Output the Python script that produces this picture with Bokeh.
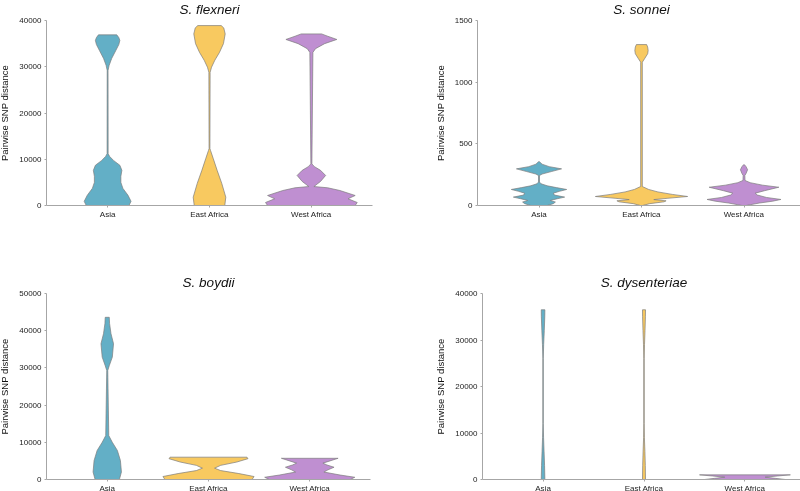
from bokeh.plotting import figure
from bokeh.layouts import column, row
from bokeh.models import Range1d, FixedTicker, InlineStyleSheet
from bokeh.embed import file_html
from bokeh.resources import INLINE

# ---------------- data ----------------
regions = ["Asia", "East Africa", "West Africa"]
region_pos = [1, 2, 3]
colors = ["#63afc6", "#f8c960", "#bf8fd1"]

titles = ["S. flexneri", "S. sonnei", "S. boydii", "S. dysenteriae"]
y_max = [40000, 1500, 50000, 40000]
ticks_flexneri = [0, 10000, 20000, 30000, 40000]
ticks_sonnei = [0, 500, 1000, 1500]
ticks_boydii = [0, 10000, 20000, 30000, 40000, 50000]
ticks_dysenteriae = [0, 10000, 20000, 30000, 40000]

# violin profiles: SNP distance (y) and half-width (in category units)
flexneri_asia_y = [0, 900, 2200, 3700, 5000, 6300, 7600, 8700, 9700, 10600, 11200, 29200, 30300, 31800, 33500, 34800, 35700, 36300, 36900]
flexneri_asia_w = [0.21, 0.23, 0.20, 0.15, 0.13, 0.13, 0.14, 0.12, 0.06, 0.02, 0.005, 0.004, 0.015, 0.04, 0.08, 0.11, 0.12, 0.11, 0.09]
flexneri_east_y = [0, 1800, 4800, 7600, 10200, 11900, 12300, 28800, 29900, 31400, 33100, 35000, 37100, 38400, 38900]
flexneri_east_w = [0.15, 0.16, 0.12, 0.075, 0.036, 0.01, 0.004, 0.006, 0.02, 0.052, 0.098, 0.137, 0.154, 0.14, 0.115]
flexneri_west_y = [0, 650, 1450, 2160, 3240, 3830, 4100, 5200, 6500, 7600, 8400, 9000, 33100, 33900, 35000, 35900, 36600, 37100]
flexneri_west_w = [0.43, 0.45, 0.36, 0.43, 0.28, 0.16, 0.025, 0.09, 0.14, 0.09, 0.03, 0.005, 0.015, 0.04, 0.13, 0.25, 0.16, 0.10]

sonnei_asia_y = [0, 15, 28, 41, 55, 68, 85, 100, 115, 130, 145, 160, 176, 190, 243, 255, 275, 297, 315, 335, 355]
sonnei_asia_w = [0.08, 0.14, 0.16, 0.11, 0.18, 0.25, 0.15, 0.14, 0.20, 0.27, 0.17, 0.08, 0.02, 0.005, 0.005, 0.03, 0.12, 0.22, 0.10, 0.03, 0.005]
sonnei_east_y = [0, 15, 30, 38, 48, 58, 73, 90, 110, 130, 154, 1162, 1190, 1230, 1257, 1285, 1305]
sonnei_east_w = [0.01, 0.08, 0.22, 0.24, 0.12, 0.25, 0.45, 0.30, 0.16, 0.07, 0.008, 0.008, 0.03, 0.06, 0.065, 0.06, 0.05]
sonnei_west_y = [0, 20, 35, 49, 65, 85, 100, 120, 148, 165, 185, 203, 243, 260, 290, 315, 330]
sonnei_west_w = [0.02, 0.15, 0.28, 0.36, 0.22, 0.13, 0.11, 0.20, 0.34, 0.18, 0.06, 0.01, 0.008, 0.02, 0.035, 0.02, 0.005]

boydii_asia_y = [0, 2000, 5100, 7800, 10000, 11800, 29300, 30600, 32900, 36500, 39200, 41900, 43600]
boydii_asia_w = [0.12, 0.14, 0.13, 0.10, 0.05, 0.015, 0.005, 0.02, 0.05, 0.062, 0.037, 0.023, 0.02]
boydii_east_y = [0, 800, 1600, 2400, 3050, 3800, 4700, 5600, 6000]
boydii_east_w = [0.43, 0.45, 0.30, 0.12, 0.06, 0.12, 0.28, 0.39, 0.38]
boydii_west_y = [0, 600, 1200, 2000, 2600, 3300, 3900, 4400, 5000, 5700]
boydii_west_w = [0.40, 0.445, 0.30, 0.14, 0.18, 0.24, 0.17, 0.13, 0.20, 0.28]

dysenteriae_asia_y = [0, 3000, 6000, 9000, 12000, 26000, 29000, 32000, 35000, 36500]
dysenteriae_asia_w = [0.018, 0.015, 0.010, 0.005, 0.002, 0.002, 0.006, 0.012, 0.017, 0.018]
dysenteriae_east_y = [0, 3000, 6000, 9000, 12000, 26000, 29000, 32000, 35000, 36500]
dysenteriae_east_w = [0.015, 0.013, 0.009, 0.004, 0.002, 0.002, 0.005, 0.010, 0.014, 0.015]
dysenteriae_west_y = [0, 250, 500, 750, 1000]
dysenteriae_west_w = [0.40, 0.30, 0.20, 0.32, 0.45]

panels = [
    (titles[0], y_max[0], ticks_flexneri, [(flexneri_asia_y, flexneri_asia_w), (flexneri_east_y, flexneri_east_w), (flexneri_west_y, flexneri_west_w)]),
    (titles[1], y_max[1], ticks_sonnei, [(sonnei_asia_y, sonnei_asia_w), (sonnei_east_y, sonnei_east_w), (sonnei_west_y, sonnei_west_w)]),
    (titles[2], y_max[2], ticks_boydii, [(boydii_asia_y, boydii_asia_w), (boydii_east_y, boydii_east_w), (boydii_west_y, boydii_west_w)]),
    (titles[3], y_max[3], ticks_dysenteriae, [(dysenteriae_asia_y, dysenteriae_asia_w), (dysenteriae_east_y, dysenteriae_east_w), (dysenteriae_west_y, dysenteriae_west_w)]),
]

# ---------------- layout ----------------
FONT = "Liberation Sans"
geom = [
    # width, height, left, right, top, bottom
    (404, 250, 50, 28, 25, 40),
    (405, 250, 77, 0, 25, 40),
    (404, 263, 50, 30, 48, 29),
    (405, 263, 82, 0, 48, 29),
]


def make_panel(spec, g):
    title, ymax, yticks, violins = spec
    w, h, bl, br, bt, bb = g
    p = figure(width=w, height=h, output_backend="svg", toolbar_location=None,
               x_range=Range1d(0.4, 3.6), y_range=Range1d(0, ymax),
               min_border_left=bl, min_border_right=br, min_border_top=bt, min_border_bottom=bb,
               title=title)
    p.title.text_font = FONT
    p.title.text_font_style = "italic"
    p.title.text_font_size = "13.5px"
    p.title.align = "center"
    p.title.text_color = "#111111"
    p.title.standoff = 7
    p.outline_line_color = None
    p.xgrid.visible = False
    p.ygrid.visible = False
    p.background_fill_color = "white"
    p.border_fill_color = "white"

    for (ys, ws), cx, col in zip(violins, region_pos, colors):
        xs = [cx + v for v in ws] + [cx - v for v in ws[::-1]]
        yy = list(ys) + list(ys[::-1])
        p.patch(xs, yy, fill_color=col, line_color="#7d7d7d", line_width=0.7, line_join="round")

    p.xaxis.ticker = FixedTicker(ticks=region_pos)
    p.xaxis.major_label_overrides = {pos: name for pos, name in zip(region_pos, regions)}
    p.yaxis.ticker = FixedTicker(ticks=yticks)
    p.yaxis.axis_label = "Pairwise SNP distance"
    for ax in (p.xaxis[0], p.yaxis[0]):
        ax.axis_line_color = "#a6a6a6"
        ax.axis_line_width = 1
        ax.major_tick_line_color = "#a6a6a6"
        ax.major_tick_out = 2
        ax.major_tick_in = 0
        ax.minor_tick_out = 0
        ax.minor_tick_in = 0
        ax.major_label_text_font = FONT
        ax.major_label_text_font_size = "8px"
        ax.major_label_text_color = "#222222"
        ax.major_label_standoff = 3
        ax.axis_label_text_font = FONT
        ax.axis_label_text_font_size = "9.5px"
        ax.axis_label_text_font_style = "normal"
        ax.axis_label_text_color = "#111111"
        ax.axis_label_standoff = 6
    p.xaxis.major_label_standoff = 2
    return p


figs = [make_panel(s, g) for s, g in zip(panels, geom)]
# the layout is pinned to the window corner; right-hand panels run past the page edge
fix = InlineStyleSheet(css=":host { position: fixed !important; left: -4px !important; top: -5px !important; }")
layout = column(row(figs[0], figs[1]), row(figs[2], figs[3]), stylesheets=[fix])

open("out.html", "w").write(file_html(layout, INLINE))
